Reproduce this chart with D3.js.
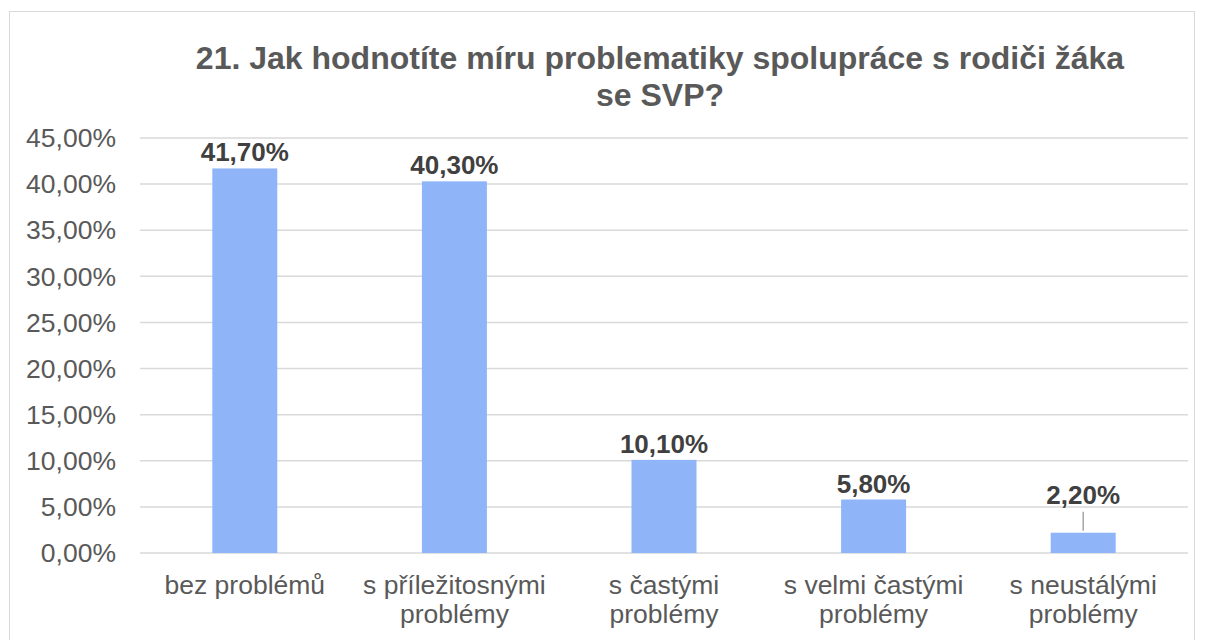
<!DOCTYPE html>
<html>
<head>
<meta charset="utf-8">
<script src="https://cdn.jsdelivr.net/npm/d3@7"></script>
<style>
  body { margin: 0; background: #fff; }
  text { font-family: "Liberation Sans", Arial, sans-serif; }
</style>
</head>
<body>
<div id="wrapper"></div>
<script>
const titleLines = ["21. Jak hodnotíte míru problematiky spolupráce s rodiči žáka", "se SVP?"]
const categories = [["bez problémů"], ["s příležitosnými", "problémy"], ["s častými", "problémy"], ["s velmi častými", "problémy"], ["s neustálými", "problémy"]]
const values = [41.7, 40.3, 10.1, 5.8, 2.2]
const yTicks = [0, 5, 10, 15, 20, 25, 30, 35, 40, 45]

let dimensions = {
  width: 1205,
  height: 640,
  margin: { top: 138, right: 17, bottom: 87, left: 140 }
}
dimensions.boundedWidth = dimensions.width - dimensions.margin.left - dimensions.margin.right
dimensions.boundedHeight = dimensions.height - dimensions.margin.top - dimensions.margin.bottom

const fmt = v => v.toFixed(2).replace(".", ",") + "%"

const svg = d3.select("#wrapper").append("svg")
  .attr("width", dimensions.width)
  .attr("height", dimensions.height)

// outer chart border
svg.append("rect")
  .attr("x", 9.5).attr("y", 11.5)
  .attr("width", 1185).attr("height", 640)
  .attr("fill", "none")
  .attr("stroke", "#d9d9d9")
  .attr("stroke-width", 1)

const title = svg.append("text")
  .attr("text-anchor", "middle")
  .attr("fill", "#595959")
  .style("font-size", "32px")
  .style("font-weight", "bold")
title.selectAll("tspan").data(titleLines).join("tspan")
  .attr("x", 660)
  .attr("y", (d, i) => 69 + i * 37)
  .text(d => d)

const bounds = svg.append("g")
  .attr("transform", `translate(${dimensions.margin.left},${dimensions.margin.top})`)

const xScale = d3.scaleBand()
  .domain(d3.range(values.length))
  .range([0, dimensions.boundedWidth])
  .paddingInner(0.69)
  .paddingOuter(0.345)

const yScale = d3.scaleLinear()
  .domain([0, 45])
  .range([dimensions.boundedHeight, 0])

// gridlines
bounds.selectAll(".grid").data(yTicks).join("line")
  .attr("x1", 0).attr("x2", dimensions.boundedWidth)
  .attr("y1", d => yScale(d)).attr("y2", d => yScale(d))
  .attr("stroke", "#d9d9d9")
  .attr("stroke-width", 1.5)

// y tick labels
bounds.selectAll(".ytick").data(yTicks).join("text")
  .attr("x", -24)
  .attr("y", d => yScale(d))
  .attr("dy", "0.35em")
  .attr("text-anchor", "end")
  .attr("fill", "#595959")
  .style("font-size", "26.5px")
  .text(d => fmt(d))

// bars
bounds.selectAll(".bar").data(values).join("rect")
  .attr("x", (d, i) => xScale(i))
  .attr("y", d => yScale(d))
  .attr("width", xScale.bandwidth())
  .attr("height", d => dimensions.boundedHeight - yScale(d))
  .attr("fill", "#8fb4f8")

// leader line for the smallest bar
const lastI = values.length - 1
bounds.append("line")
  .attr("x1", xScale(lastI) + xScale.bandwidth() / 2)
  .attr("x2", xScale(lastI) + xScale.bandwidth() / 2)
  .attr("y1", yScale(values[lastI]) - 2)
  .attr("y2", yScale(values[lastI]) - 21)
  .attr("stroke", "#a6a6a6")
  .attr("stroke-width", 1.5)

// data labels
bounds.selectAll(".label").data(values).join("text")
  .attr("x", (d, i) => xScale(i) + xScale.bandwidth() / 2)
  .attr("y", (d, i) => yScale(d) - (i === lastI ? 29 : 7))
  .attr("text-anchor", "middle")
  .attr("fill", "#404040")
  .style("font-size", "26px")
  .style("font-weight", "bold")
  .text(d => fmt(d))

// category labels
const cats = bounds.selectAll(".cat").data(categories).join("text")
  .attr("text-anchor", "middle")
  .attr("fill", "#595959")
  .style("font-size", "26.5px")
cats.selectAll("tspan").data((d, i) => d.map(t => ({ t, i }))).join("tspan")
  .attr("x", d => xScale(d.i) + xScale.bandwidth() / 2)
  .attr("y", (d, j) => dimensions.boundedHeight + 41 + j * 29)
  .text(d => d.t)
</script>
</body>
</html>
